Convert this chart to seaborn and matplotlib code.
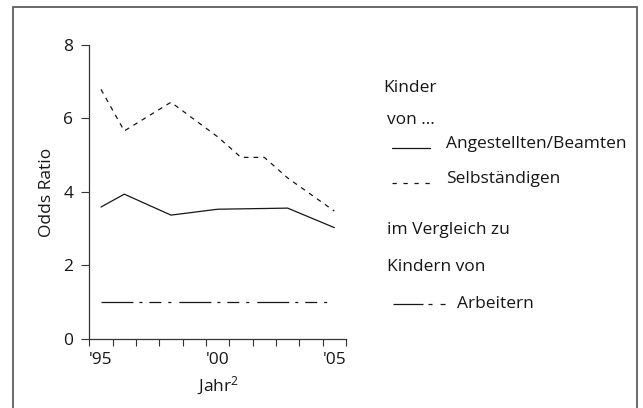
import matplotlib
matplotlib.use("Agg")
import matplotlib.pyplot as plt
import seaborn as sns
import pandas as pd
from matplotlib.lines import Line2D
from matplotlib.patches import Rectangle

# ---- data ----
years = [1995, 1996, 1998, 2000, 2001, 2002, 2003, 2005]
angestellte = [3.59, 3.94, 3.37, 3.53, 3.54, 3.55, 3.56, 3.03]
selbstaendige = [6.79, 5.66, 6.44, 5.50, 4.94, 4.94, 4.38, 3.48]
arbeiter = [1.0, 1.0, 1.0, 1.0, 1.0, 1.0, 1.0, 1.0]
xtick_years = [1995, 2000, 2005]
xtick_labels = ["'95", "'00", "'05"]
yticks = [0, 2, 4, 6, 8]
year_range = list(range(1995, 2007))

sns.set_theme(style="ticks")
plt.rcParams['font.family'] = ['Open Sans', 'DejaVu Sans']
plt.rcParams['mathtext.default'] = 'regular'
plt.rcParams['lines.scale_dashes'] = False

W, H = 643, 408
fig = plt.figure(figsize=(W / 100, H / 100), dpi=100)


def fx(px):
    return px / W


def fy(py):
    return 1 - py / H


ax_l, ax_r, ax_t, ax_b = 89.3, 346.0, 44.9, 339.0
ax = fig.add_axes([fx(ax_l), fy(ax_b), fx(ax_r) - fx(ax_l), fy(ax_t) - fy(ax_b)])

INK = '#161616'
SOLID = '-'
DASHED = (0, (3.4, 3.6))
DASHDOT = (0, (23, 4.3, 2.2, 5, 8.6, 5, 2.2, 5.8))

df = pd.DataFrame({"Jahr": years, "Angestellte": angestellte,
                   "Selbst": selbstaendige, "Arbeiter": arbeiter})
for col, ls in [("Angestellte", SOLID), ("Selbst", DASHED), ("Arbeiter", DASHDOT)]:
    sns.lineplot(data=df, x="Jahr", y=col, ax=ax, color=INK, lw=0.9,
                 estimator=None)
    ax.lines[-1].set_linestyle(ls)

ax.set_xlim(1994.5, 2005.5)
ax.set_ylim(0, 8)
sns.despine(ax=ax)
for s in ("left", "bottom"):
    ax.spines[s].set_color('#333333')
    ax.spines[s].set_linewidth(0.9)

FS = 12.5
ax.set_yticks(yticks)
ax.set_yticklabels([str(v) for v in yticks])
ax.set_xticks([y - 0.5 for y in year_range])
ax.set_xticklabels([])
ax.set_xticks(xtick_years, labels=xtick_labels, minor=True)
ax.tick_params(axis='x', which='major', direction='out', length=5, width=0.8,
               color='#333333', bottom=True)
ax.tick_params(axis='x', which='minor', length=0, pad=9, labelsize=FS,
               labelcolor=INK, bottom=True)
ax.tick_params(axis='y', direction='out', length=5.5, width=0.8,
               color='#333333', pad=6, labelsize=FS, labelcolor=INK, left=True)

ax.set_ylabel("Odds Ratio", fontsize=FS, color=INK)
ax.yaxis.set_label_coords((55 - ax_l) / (ax_r - ax_l), 0.5)
ax.set_xlabel("Jahr$^2$", fontsize=FS, color=INK)
ax.xaxis.set_label_coords(0.5, -(375 - ax_b) / (ax_b - ax_t))

# ---- legend (text block at right) ----
fig.text(fx(383), fy(91.7), "Kinder", fontsize=FS, color=INK, va='baseline')
fig.text(fx(387), fy(124), "von ...", fontsize=FS, color=INK, va='baseline')
fig.text(fx(446), fy(148.3), "Angestellten/Beamten", fontsize=FS, color=INK, va='baseline')
fig.text(fx(446), fy(182.7), "Selbständigen", fontsize=FS, color=INK, va='baseline')
fig.text(fx(387), fy(234.3), "im Vergleich zu", fontsize=FS, color=INK, va='baseline')
fig.text(fx(387), fy(271), "Kindern von", fontsize=FS, color=INK, va='baseline')
fig.text(fx(457), fy(308.3), "Arbeitern", fontsize=FS, color=INK, va='baseline')

fig.add_artist(Line2D([fx(392), fx(430)], [fy(147.7), fy(147.7)], color=INK,
                      lw=0.9, linestyle=SOLID, transform=fig.transFigure))
fig.add_artist(Line2D([fx(392), fx(430)], [fy(183), fy(183)], color=INK,
                      lw=0.9, linestyle=(0, (3.1, 4.8)), transform=fig.transFigure))
fig.add_artist(Line2D([fx(393), fx(446)], [fy(304), fy(304)], color=INK,
                      lw=0.9, linestyle=(0, (21.6, 3.6, 2.9, 5.8, 3.6)),
                      transform=fig.transFigure))

# ---- frame ----
fig.add_artist(Rectangle((fx(12.5), fy(412)), fx(636.7) - fx(12.5), fy(7.3) - fy(412),
                         fill=False, edgecolor='#5e5e5e', lw=1.3,
                         transform=fig.transFigure))

fig.savefig("out.png", dpi=100)
